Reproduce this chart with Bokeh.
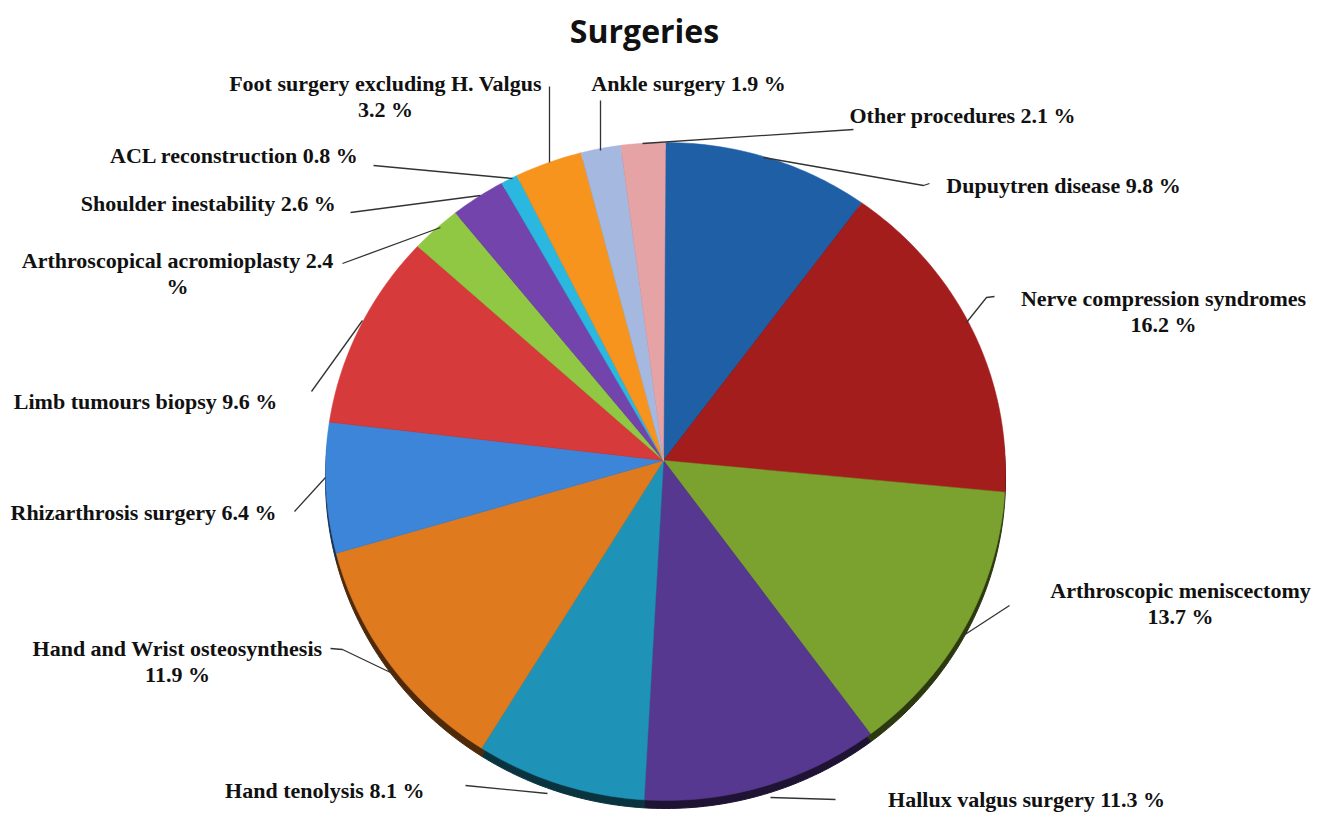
import numpy as np
from bokeh.plotting import figure
from bokeh.models import Range1d
from bokeh.core.properties import value
from bokeh.embed import file_html
from bokeh.resources import INLINE

# ---------------- data ----------------
categories = ["Dupuytren disease", "Nerve compression syndromes", "Arthroscopic meniscectomy",
              "Hallux valgus surgery", "Hand tenolysis", "Hand and Wrist osteosynthesis",
              "Rhizarthrosis surgery", "Limb tumours biopsy", "Arthroscopical acromioplasty",
              "Shoulder inestability", "ACL reconstruction", "Foot surgery excluding H. Valgus",
              "Ankle surgery", "Other procedures"]
percent = [9.8, 16.2, 13.7, 11.3, 8.1, 11.9, 6.4, 9.6, 2.4, 2.6, 0.8, 3.2, 1.9, 2.1]
label_text = ["Dupuytren disease 9.8 %", "Nerve compression syndromes\n16.2 %",
              "Arthroscopic meniscectomy\n13.7 %", "Hallux valgus surgery 11.3 %",
              "Hand tenolysis  8.1 %", "Hand and Wrist osteosynthesis\n11.9 %",
              "Rhizarthrosis surgery 6.4 %", "Limb tumours biopsy 9.6 %",
              "Arthroscopical acromioplasty 2.4\n%", "Shoulder inestability 2.6 %",
              "ACL reconstruction 0.8 %", "Foot surgery excluding H. Valgus\n3.2 %",
              "Ankle surgery 1.9 %", "Other procedures  2.1 %"]
colors = ["#1f5fa6", "#a31d1d", "#7ba22f", "#563890", "#1e93b7", "#e07a1e", "#3d85d8",
          "#d63a3a", "#90c844", "#7444ad", "#2ab8e0", "#f7941d", "#a4b8e0", "#e6a3a6"]
title = "Surgeries"

# ---------------- layout (screen pixels) ----------------
H = 814
W_FIG, H_FIG = 1312, 812
def Y(v):
    return H - v

label_pos = [(1063, 185), (1163, 298), (1180, 590), (1026, 799), (327, 790), (177, 648),
             (143, 512), (145, 401), (177, 260), (208, 203), (234, 155), (385, 83),
             (688, 83), (965, 115)]
leaders = [
    [(763, 157), (923, 185), (929, 183)],
    [(966, 322), (986, 297), (994, 296)],
    [(963, 635), (1009, 605)],
    [(770, 797), (835, 799)],
    [(465, 785), (547, 793)],
    [(330, 648), (342, 649), (390, 672)],
    [(294, 511), (325, 477)],
    [(311, 391), (362, 320)],
    [(342, 263), (440, 227)],
    [(350, 212), (480, 195)],
    [(373, 165), (512, 178)],
    [(549, 86), (549, 162)],
    [(600, 100), (600, 150)],
    [(642, 143), (853, 129)],
]

apex_x, apex_y = 663, 460
ecx, ecy = 665, 471
rx, ry = 340, 329
depth = 8

p = figure(width=W_FIG, height=H_FIG, output_backend="svg", toolbar_location=None,
           x_range=Range1d(0, W_FIG), y_range=Range1d(Y(H_FIG), Y(0)),
           x_axis_location=None, y_axis_location=None, min_border=0)
p.grid.visible = False
p.outline_line_color = None
p.background_fill_color = "white"

# pie slice polygons computed from the values
frac = np.array(percent) / sum(percent)
ends = np.cumsum(frac)
starts = ends - frac

def darken(hexc, f):
    r = int(hexc[1:3], 16); g = int(hexc[3:5], 16); b = int(hexc[5:7], 16)
    return "#%02x%02x%02x" % (int(r * f), int(g * f), int(b * f))

xs_top, ys_top, xs_side, ys_side = [], [], [], []
for s, e in zip(starts, ends):
    t = np.linspace(s, e, max(4, int((e - s) * 400)))
    ang = 2 * np.pi * t
    px = ecx + rx * np.sin(ang)
    py = ecy - ry * np.cos(ang)
    xs = [apex_x] + list(px) + [apex_x]
    ys = [apex_y] + list(py) + [apex_y]
    xs_top.append(xs)
    ys_top.append([Y(v) for v in ys])
    xs_side.append(xs)
    ys_side.append([Y(v + depth) for v in ys])

side_colors = [darken(c, 0.35) for c in colors]
p.patches(xs_side, ys_side, fill_color=side_colors, line_color=side_colors, line_width=1)
p.patches(xs_top, ys_top, fill_color=colors, line_color=colors, line_width=0.5)

# leader lines
p.multi_line([[pt[0] for pt in l] for l in leaders], [[Y(pt[1]) for pt in l] for l in leaders],
             line_color="#333333", line_width=1.3)

# labels
tx, ty, tt = [], [], []
for lab, (x0, y0) in zip(label_text, label_pos):
    for i, line in enumerate(lab.split("\n")):
        tx.append(x0); ty.append(Y(y0 + i * 26)); tt.append(line)
p.text(tx, ty, text=tt, text_font=value("Liberation Serif"), text_font_style="bold",
       text_font_size="22px", text_align="center", text_baseline="middle", text_color="#111111")

p.text([644], [Y(30)], text=[title], text_font=value("Open Sans"), text_font_style="bold",
       text_font_size="32px", text_align="center", text_baseline="middle", text_color="#111111")

open("out.html", "w").write(file_html(p, INLINE))
